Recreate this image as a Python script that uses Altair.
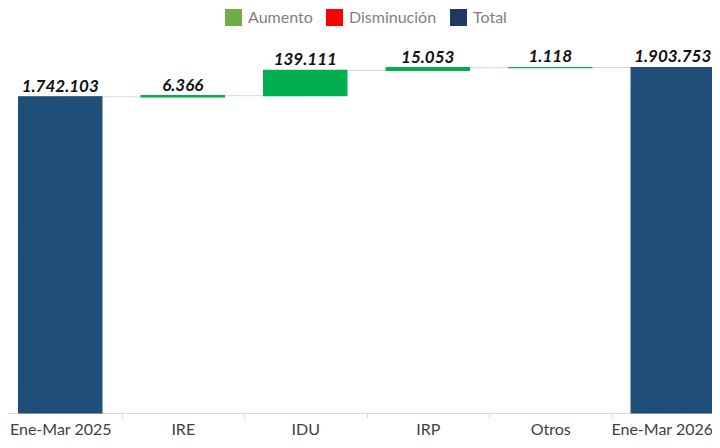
import altair as alt
import pandas as pd

categories = ["Ene-Mar 2025", "IRE", "IDU", "IRP", "Otros", "Ene-Mar 2026"]
amounts = [1742103, 6366, 139111, 15053, 1118, 1903753]
kinds = ["Total", "Aumento", "Aumento", "Aumento", "Aumento", "Total"]
legend_items = ["Aumento", "Disminución", "Total"]

bar_colors = ["#00B050", "#FF0000", "#1F4E79"]
legend_colors = ["#70AD47", "#FF0000", "#203864"]

rows = []
running = 0
for c, a, k in zip(categories, amounts, kinds):
    if k == "Total":
        start, end = 0, a
        running = a
    else:
        start, end = running, running + a
        running = end
    rows.append(dict(cat=c, start=start, end=end, kind=k,
                     label=f"{a:,}".replace(",", ".")))
df = pd.DataFrame(rows)
conn = pd.DataFrame([dict(cat=df.cat[i], nxt=df.cat[i + 1], level=df.end[i])
                     for i in range(len(df) - 1)])
leg = pd.DataFrame({"item": legend_items})

xs = alt.Scale(domain=categories, range=[-9, 726], paddingInner=0, paddingOuter=0)
ys = alt.Scale(domain=[0, 2231550], nice=False, zero=True)
xaxis = alt.Axis(title=None, labelFont="Lato", labelFontSize=16, labelColor="#404040",
                 domainColor="#D9D9D9", tickColor="#D9D9D9", tickSize=5, tickBand="extent",
                 labelOffset={"condition": {"test": "datum.value === 'Ene-Mar 2026'", "value": -11},
                              "value": 0},
                 labelPadding=3, grid=False, labelAngle=0)

base_x = alt.X("cat:N", scale=xs, axis=xaxis, sort=categories)

rules = alt.Chart(conn).mark_rule(color="#D9D9D9", strokeWidth=1).encode(
    x=base_x, x2="nxt:N", y=alt.Y("level:Q", scale=ys, axis=None))

bars = alt.Chart(df).mark_bar(strokeWidth=1.2, width={"band": 0.68}).encode(
    x=base_x,
    y=alt.Y("start:Q", scale=ys, axis=None),
    y2="end:Q",
    color=alt.Color("kind:N", scale=alt.Scale(domain=legend_items, range=bar_colors), legend=None),
    stroke=alt.Stroke("kind:N", scale=alt.Scale(domain=legend_items, range=bar_colors), legend=None),
)

labels = alt.Chart(df).mark_text(font="Lato", fontSize=17, fontWeight="bold", fontStyle="italic",
                                 color="#111111", baseline="alphabetic", dy=-5).encode(
    x=base_x, y=alt.Y("end:Q", scale=ys, axis=None), text="label:N")

legend_layer = alt.Chart(leg).mark_square(opacity=0).encode(
    color=alt.Color("item:N", scale=alt.Scale(domain=legend_items, range=legend_colors),
                    legend=alt.Legend(orient="none", legendX=217, legendY=1, direction="horizontal",
                                      title=None, symbolType="square", symbolSize=289,
                                      labelFont="Lato", labelFontSize=16, labelColor="#7F7F7F",
                                      symbolOpacity=1, symbolStrokeWidth=0, columnPadding=13,
                                      labelOffset=6, padding=0)))

chart = alt.layer(rules, bars, labels, legend_layer).resolve_scale(
    color="independent", stroke="independent"
).properties(
    width=704, height=405,
    autosize=alt.AutoSizeParams(type="none"),
    padding={"left": 0, "top": 0, "right": 0, "bottom": 27},
    background="white",
).configure_view(stroke=None)

chart.save("out.html", embed_options={"renderer": "svg", "actions": False})
